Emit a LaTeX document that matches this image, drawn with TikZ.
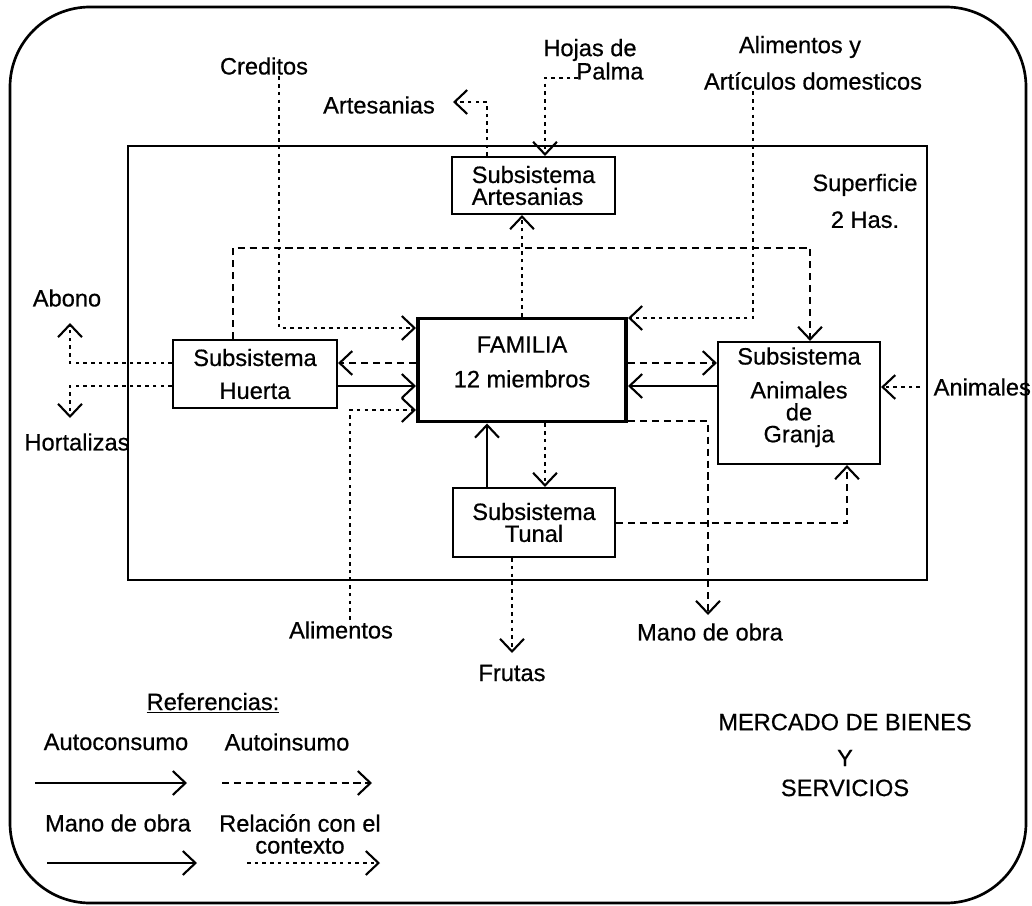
\documentclass[tikz,border=0pt]{standalone}
\usepackage{fontspec}
\setmainfont{Liberation Sans}[FakeBold=0.6]
\usetikzlibrary{positioning,arrows.meta}

\begin{document}
\begin{tikzpicture}[x=0.025cm, y=-0.025cm,
    every node/.style={font=\fontsize{16.8}{15.6}\selectfont, inner sep=1pt},
    subsys/.style={draw, rectangle, line width=1.5pt, align=center, inner sep=0pt},
    family/.style={draw, rectangle, line width=2.8pt, align=center, inner sep=0pt},
    txt/.style={align=center},
    flow/.style={-{Straight Barb[length=9pt,width=17pt,line width=1.5pt]}, line width=1.4pt},
    insumo/.style={flow, dash pattern=on 5pt off 3.5pt},
    contexto/.style={flow, line width=1.1pt, dash pattern=on 2.5pt off 3pt}
]
\useasboundingbox (0,0) rectangle (1032,906);

% Frames
\draw[line width=1.9pt, rounded corners=2cm] (10,7) rectangle (1026,903);
\draw[line width=1.7pt] (128,146) rectangle (927,580);

% Subsystems
\node[subsys, align=left, minimum width=4.075cm, minimum height=1.425cm] (arte) at (533.5,185.5) {Subsistema\\Artesanias};
\node[family, minimum width=5.2cm, minimum height=2.575cm] (fam) at (522,370) {FAMILIA\\[9pt]12 miembros\\[-4pt]\mbox{}};
\node[subsys, minimum width=4.1cm, minimum height=1.7cm] (huerta) at (255,374) {Subsistema\\[7.8pt]Huerta};
\node[subsys, minimum width=4.05cm, minimum height=3.05cm] (granja) at (799,403) {Subsistema\\[8.5pt]Animales\\de\\Granja\\[-4pt]\mbox{}};
\node[subsys, minimum width=4.05cm, minimum height=1.725cm] (tunal) at (534,522.5) {Subsistema\\Tunal};

% Context labels
\node[txt] (creditos) at (264,66) {Creditos};
\node[txt] (artlbl) at (379,105) {Artesanias};
\node[txt] (hojas) at (590,50) {Hojas de};
\node[txt] (palma) at (610,71) {Palma};
\node[txt] (alimy) at (800,47) {Alimentos y};
\node[txt] (articulos) at (813,81) {Artículos domesticos};
\node[txt] (superficie) at (865,201) {Superficie\\[10.6pt]2 Has.};
\node[txt] (abono) at (67,298) {Abono};
\node[txt] (hortalizas) at (77,442) {Hortalizas};
\node[txt, anchor=west] (animales) at (932,387) {Animales};
\node[txt] (alimentos) at (341,630) {Alimentos};
\node[txt] (frutas) at (512,673) {Frutas};
\node[txt] (manoobra) at (710,632) {Mano de obra};
\node[txt] (mercado) at (845,755) {MERCADO DE BIENES\\[9.9pt]Y\\[5.7pt]SERVICIOS};

% Bends and free ends
\coordinate (loopl) at (233,248);
\coordinate (loopr) at (810,248);
\coordinate (credc) at (279,328);
\coordinate (alimc) at (350,410);
\coordinate (abonoc) at (70,363);
\coordinate (abonot) at (70,323);
\coordinate (hortc) at (70,386);
\coordinate (hortt) at (70,418);
\coordinate (artec) at (487,102);
\coordinate (artet) at (453,102);
\coordinate (hojasc) at (545,78);
\coordinate (hojast) at (578,78);
\coordinate (alimyc) at (753,318);
\coordinate (animt) at (920,387);
\coordinate (tunalc) at (847,523);
\coordinate (manoc) at (708,421);
\coordinate (manot) at (708,615);
\coordinate (frutast) at (512,653);
\coordinate (lvup) at (0,363);
\coordinate (lvdn) at (0,386);
\coordinate (colup) at (487,0);
\coordinate (coldn) at (545,0);

% Arrows
\draw[insumo] (huerta.north -| loopl) -- (loopl) -- (loopr) -- (granja.north -| loopr);
\draw[contexto] (creditos.south -| credc) -- (credc) -- (fam.west |- credc);
\draw[contexto] (alimentos.north -| alimc) -- (alimc) -- (fam.west |- alimc);
\draw[contexto] (huerta.west |- abonoc) -- (abonoc) -- (abonot);
\draw[contexto] (huerta.west |- hortc) -- (hortc) -- (hortt);
\draw[insumo] (fam.west |- lvup) -- (huerta.east |- lvup);
\draw[flow] (huerta.east |- lvdn) -- (fam.west |- lvdn);
\draw[insumo] (fam.east |- lvup) -- (granja.west |- lvup);
\draw[flow] (granja.west |- lvdn) -- (fam.east |- lvdn);
\draw[contexto] (animt) -- (granja.east |- animt);
\draw[contexto] (fam.north) -- (arte.south -| fam.north);
\draw[contexto] (arte.north -| artec) -- (artec) -- (artet);
\draw[contexto] (hojast) -- (hojasc) -- (arte.north -| hojasc);
\draw[contexto] (articulos.south -| alimyc) -- (alimyc) -- (fam.east |- alimyc);
\draw[contexto] (fam.south -| coldn) -- (tunal.north -| coldn);
\draw[flow] (tunal.north -| colup) -- (fam.south -| colup);
\draw[insumo] (tunal.east |- tunalc) -- (tunalc) -- (granja.south -| tunalc);
\draw[insumo] (fam.east |- manoc) -- (manoc) -- (manot);
\draw[contexto] (tunal.south -| frutast) -- (frutast);

% Legend
\node[txt] (refs) at (213,703) {\underline{Referencias:}};
\node[txt] (autocons) at (116,742) {Autoconsumo};
\node[txt] (autoins) at (287,742) {Autoinsumo};
\node[txt] (manolbl) at (118,823) {Mano de obra};
\node[txt] (relacion) at (300,834) {Relación con el\\contexto};
\coordinate (l1a) at (35,783);
\coordinate (l1b) at (187,783);
\coordinate (l2a) at (222,783);
\coordinate (l2b) at (372,783);
\coordinate (l3a) at (47,863);
\coordinate (l3b) at (197,863);
\coordinate (l4a) at (247,863);
\coordinate (l4b) at (380,863);
\draw[flow] (l1a) -- (l1b);
\draw[insumo] (l2a) -- (l2b);
\draw[flow] (l3a) -- (l3b);
\draw[contexto] (l4a) -- (l4b);

\end{tikzpicture}
\end{document}
